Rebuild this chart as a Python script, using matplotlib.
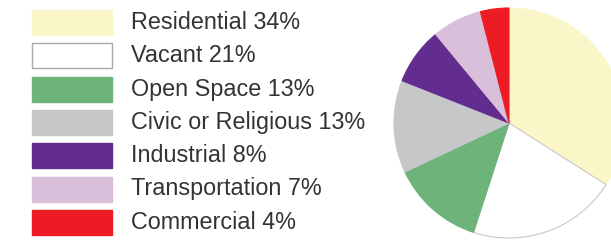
import matplotlib as mpl
mpl.use("Agg")
import matplotlib.pyplot as plt
from matplotlib.patches import Rectangle

categories = ["Residential", "Vacant", "Open Space", "Civic or Religious",
              "Industrial", "Transportation", "Commercial"]
shares = [34, 21, 13, 13, 8, 7, 4]
colors = ["#FAF6C8", "#FFFFFF", "#6DB37A", "#C6C7C9", "#632C8F", "#D9BFD9", "#ED1C24"]
edges = ["#FAF6C8", "#C8C8C8", "#6DB37A", "#C6C7C9", "#632C8F", "#D9BFD9", "#ED1C24"]

W, H = 611, 241
fig = plt.figure(figsize=(W / 100, H / 100), dpi=100)
ax = fig.add_axes([0, 0, 1, 1])

wedges, _ = ax.pie(shares, colors=colors, startangle=90, counterclock=False,
                   center=(509, H - 123), radius=115, frame=True,
                   wedgeprops=dict(linewidth=0.8))
for w, ec in zip(wedges, edges):
    w.set_edgecolor(ec)
ax.set_xlim(0, W)
ax.set_ylim(0, H)
ax.set_aspect("equal")
ax.axis("off")

y0, step = 22.5, 33.3
for i, (cat, s) in enumerate(zip(categories, shares)):
    yc = H - (y0 + i * step)
    ax.add_patch(Rectangle((32, yc - 12.5), 80, 25, facecolor=colors[i],
                           edgecolor="#AAAAAA" if cat == "Vacant" else colors[i],
                           linewidth=1.0))
    ax.text(131, yc, f"{cat} {s}%", va="center", ha="left", fontsize=16.8,
            family="Liberation Sans", color="#333333")

fig.savefig("out.png", dpi=100, facecolor="white")
